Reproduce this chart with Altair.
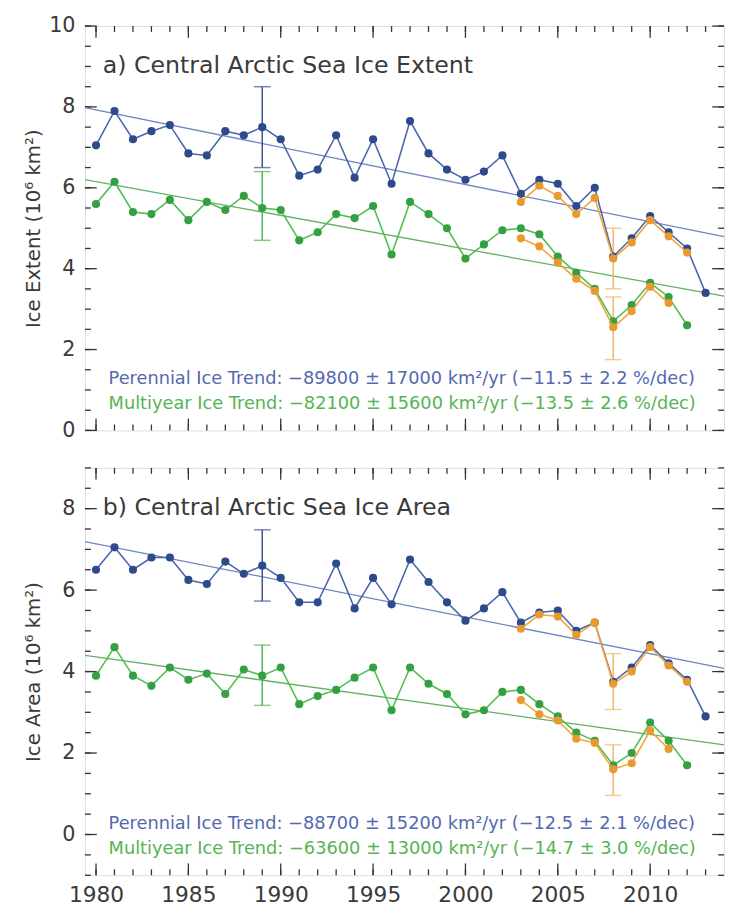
import altair as alt
import pandas as pd

FONT = "DejaVu Sans"

# ---------------- data ----------------
years_per = list(range(1980, 2014))
years_my = list(range(1980, 2013))
years_alt_per = list(range(2003, 2013))
years_alt_my = list(range(2003, 2012))

ext_per = [7.05, 7.9, 7.2, 7.4, 7.55, 6.85, 6.8, 7.4, 7.3, 7.5, 7.2, 6.3, 6.45, 7.3, 6.25,
           7.2, 6.1, 7.65, 6.85, 6.45, 6.2, 6.4, 6.8, 5.85, 6.2, 6.1, 5.55, 6.0, 4.3, 4.75,
           5.3, 4.9, 4.5, 3.4]
ext_my = [5.6, 6.15, 5.4, 5.35, 5.7, 5.2, 5.65, 5.45, 5.8, 5.5, 5.45, 4.7, 4.9, 5.35, 5.25,
          5.55, 4.35, 5.65, 5.35, 5.0, 4.25, 4.6, 4.95, 5.0, 4.85, 4.3, 3.9, 3.5, 2.7, 3.1,
          3.65, 3.3, 2.6]
ext_per_alt = [5.65, 6.05, 5.8, 5.35, 5.75, 4.25, 4.65, 5.2, 4.8, 4.4]
ext_my_alt = [4.75, 4.55, 4.15, 3.75, 3.45, 2.55, 2.95, 3.55, 3.15]

area_per = [6.5, 7.05, 6.5, 6.8, 6.8, 6.25, 6.15, 6.7, 6.4, 6.6, 6.3, 5.7, 5.7, 6.65, 5.55,
            6.3, 5.65, 6.75, 6.2, 5.7, 5.25, 5.55, 5.95, 5.2, 5.45, 5.5, 5.0, 5.2, 3.75, 4.1,
            4.65, 4.2, 3.8, 2.9]
area_my = [3.9, 4.6, 3.9, 3.65, 4.1, 3.8, 3.95, 3.45, 4.05, 3.9, 4.1, 3.2, 3.4, 3.55, 3.85,
           4.1, 3.05, 4.1, 3.7, 3.45, 2.95, 3.05, 3.5, 3.55, 3.2, 2.9, 2.5, 2.3, 1.7, 2.0,
           2.75, 2.3, 1.7]
area_per_alt = [5.05, 5.4, 5.35, 4.9, 5.2, 3.7, 4.0, 4.6, 4.15, 3.75]
area_my_alt = [3.3, 2.95, 2.8, 2.35, 2.25, 1.6, 1.75, 2.55, 2.1]

# error bars: year, low, high
ext_err_per = (1989, 6.5, 8.5)
ext_err_my = (1989, 4.7, 6.4)
ext_err_per_alt = (2008, 3.5, 5.0)
ext_err_my_alt = (2008, 1.75, 3.3)
area_err_per = (1989, 5.73, 7.48)
area_err_my = (1989, 3.17, 4.65)
area_err_per_alt = (2008, 3.07, 4.44)
area_err_my_alt = (2008, 0.96, 2.2)

# trend line end points
trend_years = [1979.4, 2014.0]
ext_trend_per = [7.98, 4.79]
ext_trend_my = [6.2, 3.32]
area_trend_per = [7.19, 4.08]
area_trend_my = [4.4, 2.2]

titles = ["a) Central Arctic Sea Ice Extent", "b) Central Arctic Sea Ice Area"]
ytitles = ["Ice Extent (10\u2076 km\u00b2)", "Ice Area (10\u2076 km\u00b2)"]
ann_ext = ["Perennial Ice Trend: \u221289800 \u00b1 17000 km\u00b2/yr (\u221211.5 \u00b1 2.2 %/dec)",
           "Multiyear Ice Trend: \u221282100 \u00b1 15600 km\u00b2/yr (\u221213.5 \u00b1 2.6 %/dec)"]
ann_area = ["Perennial Ice Trend: \u221288700 \u00b1 15200 km\u00b2/yr (\u221212.5 \u00b1 2.1 %/dec)",
            "Multiyear Ice Trend: \u221263600 \u00b1 13000 km\u00b2/yr (\u221214.7 \u00b1 3.0 %/dec)"]

x_labels = [1980, 1985, 1990, 1995, 2000, 2005, 2010]
x_minor = list(range(1980, 2014))
y_labels_ext = [0, 2, 4, 6, 8, 10]
y_minor_ext = [i * 0.5 for i in range(0, 21)]
y_labels_area = [0, 2, 4, 6, 8]
y_minor_area = [i * 0.5 for i in range(-2, 19)]

# ---------------- style ----------------
X_DOMAIN = [1979.4, 2014.0]
W = 648
FRAME = "#333333"
BLUE_L, BLUE_P = "#4a66ac", "#2c4a8c"
GREEN_L, GREEN_P = "#4fbf50", "#35a043"
ORANGE_L, ORANGE_P = "#f2a53c", "#e99a2e"
BLUE_T, GREEN_T = "#6d86c4", "#62b062"
BLUE_TXT, GREEN_TXT = "#5468b0", "#55b455"
TXT = "#3a3a3a"


def panel(per, my, per_alt, my_alt, errs, t_per, t_my, ydom, H, ylab, yminor,
          title, ytitle, anns, show_x):
    xs = alt.Scale(domain=X_DOMAIN, nice=False, zero=False)
    ys = alt.Scale(domain=ydom, nice=False, zero=False)
    if show_x:
        xaxis = alt.Axis(values=x_labels, format="d", ticks=False, domain=False, grid=False,
                         labelFontSize=22, labelColor=TXT, labelPadding=10, title=None,
                         labelFont=FONT, labelFlush=False)
    else:
        xaxis = None
    yaxis = alt.Axis(values=ylab, ticks=False, domain=False, grid=False, labelFontSize=21,
                     labelColor=TXT, labelPadding=10, labelFont=FONT, title=ytitle,
                     titleFont=FONT, titleFontSize=20, titleFontWeight="normal",
                     titleColor=TXT, titlePadding=8, minExtent=34, maxExtent=34)

    def X(f):
        return alt.X(f, type="quantitative", scale=xs, axis=xaxis)

    def Y(f):
        return alt.Y(f, type="quantitative", scale=ys, axis=yaxis)

    layers = []
    # box ticks (inward)
    for vals, L in ((ylab, 12), (yminor, 6)):
        d = pd.DataFrame({"v": vals})
        layers.append(alt.Chart(d).mark_rule(color=FRAME, strokeWidth=1.3).encode(
            y=Y("v"), x=alt.value(0), x2=alt.value(L)))
        layers.append(alt.Chart(d).mark_rule(color=FRAME, strokeWidth=1.3).encode(
            y=Y("v"), x=alt.value(W), x2=alt.value(W - L)))
    for vals, L in ((x_labels, 12), (x_minor, 6)):
        d = pd.DataFrame({"v": vals})
        layers.append(alt.Chart(d).mark_rule(color=FRAME, strokeWidth=1.3).encode(
            x=X("v"), y=alt.value(H), y2=alt.value(H - L)))
        layers.append(alt.Chart(d).mark_rule(color=FRAME, strokeWidth=1.3).encode(
            x=X("v"), y=alt.value(0), y2=alt.value(L)))

    # trend lines
    for tv, c in ((t_per, BLUE_T), (t_my, GREEN_T)):
        d = pd.DataFrame({"year": trend_years, "value": tv})
        layers.append(alt.Chart(d).mark_line(color=c, strokeWidth=1.3).encode(
            x=X("year"), y=Y("value")))

    # error bars
    for (yr, lo, hi), c in zip(errs, ("#3d5494", "#55b455", "#f3b56a", "#f3b56a")):
        d = pd.DataFrame({"year": [yr], "lo": [lo], "hi": [hi]})
        layers.append(alt.Chart(d).mark_rule(color=c, strokeWidth=1.5).encode(
            x=X("year"), y=Y("lo"), y2="hi"))
        layers.append(alt.Chart(d).mark_tick(color=c, orient="horizontal", size=17,
                                              thickness=1.5).encode(x=X("year"), y=Y("lo")))
        layers.append(alt.Chart(d).mark_tick(color=c, orient="horizontal", size=17,
                                              thickness=1.5).encode(x=X("year"), y=Y("hi")))

    # data series
    series = (
        (years_per, per, BLUE_L, BLUE_P),
        (years_my, my, GREEN_L, GREEN_P),
        (years_alt_per, per_alt, ORANGE_L, ORANGE_P),
        (years_alt_my, my_alt, ORANGE_L, ORANGE_P),
    )
    for yrs, vals, lc, pc in series:
        d = pd.DataFrame({"year": yrs, "value": vals})
        layers.append(alt.Chart(d).mark_line(color=lc, strokeWidth=1.6).encode(
            x=X("year"), y=Y("value")))
        layers.append(alt.Chart(d).mark_circle(color=pc, size=68, opacity=1).encode(
            x=X("year"), y=Y("value")))

    # texts
    layers.append(alt.Chart(pd.DataFrame({"t": [title]})).mark_text(
        align="left", baseline="middle", fontSize=24, font=FONT, color=TXT).encode(
        x=alt.value(18), y=alt.value(41), text="t:N"))
    layers.append(alt.Chart(pd.DataFrame({"t": [anns[0]]})).mark_text(
        align="left", baseline="middle", fontSize=18, font=FONT, color=BLUE_TXT).encode(
        x=alt.value(24), y=alt.value(H - 52), text="t:N"))
    layers.append(alt.Chart(pd.DataFrame({"t": [anns[1]]})).mark_text(
        align="left", baseline="middle", fontSize=18, font=FONT, color=GREEN_TXT).encode(
        x=alt.value(24), y=alt.value(H - 27), text="t:N"))

    return alt.layer(*layers).properties(width=W, height=H)


top = panel(ext_per, ext_my, ext_per_alt, ext_my_alt,
            (ext_err_per, ext_err_my, ext_err_per_alt, ext_err_my_alt),
            ext_trend_per, ext_trend_my, [0, 10], 410, y_labels_ext, y_minor_ext,
            titles[0], ytitles[0], ann_ext, False)
bot = panel(area_per, area_my, area_per_alt, area_my_alt,
            (area_err_per, area_err_my, area_err_per_alt, area_err_my_alt),
            area_trend_per, area_trend_my, [-1, 9], 413, y_labels_area, y_minor_area,
            titles[1], ytitles[1], ann_area, True)

chart = alt.vconcat(top, bot, spacing=25,
                    padding={"left": 15, "top": 0, "right": 0, "bottom": 0}).configure_view(
    stroke=FRAME, strokeWidth=1.5).configure(font=FONT, background="white")

chart.save("out.html", embed_options={"renderer": "svg", "actions": False})
